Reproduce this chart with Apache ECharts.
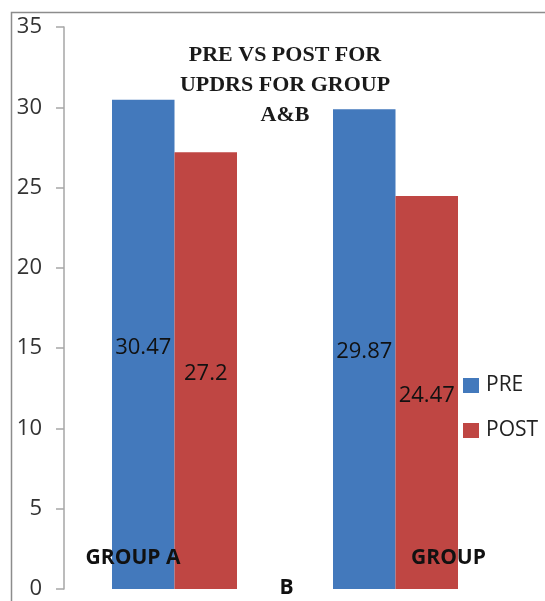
<!DOCTYPE html>
<html>
<head>
<meta charset="utf-8">
<script src="https://cdn.jsdelivr.net/npm/echarts@6/dist/echarts.min.js"></script>
<style>html,body{margin:0;padding:0;background:#fff;}#c{width:545px;height:601px;}</style>
</head>
<body>
<div id="c"></div>
<script>
var categories = ['GROUP A', 'GROUP B'];
var preValues = [30.47, 29.87];
var postValues = [27.2, 24.47];
var seriesNames = ['PRE', 'POST'];
var titleLines = ['PRE VS POST FOR', 'UPDRS FOR GROUP', 'A&B'];

var chart = echarts.init(document.getElementById('c'));
chart.setOption({
  animation: false,
  backgroundColor: '#fff',
  title: {
    text: titleLines.join('\n'),
    left: 285, top: 40, padding: 0, textAlign: 'center',
    textStyle: { fontFamily: 'Liberation Serif', fontWeight: 'bold', fontSize: 22, lineHeight: 30, color: '#1a1a1a' }
  },
  legend: {
    orient: 'vertical', left: 458, top: 370,
    itemWidth: 16, itemHeight: 15, itemGap: 24,
    icon: 'rect',
    data: seriesNames,
    textStyle: { fontFamily: 'Open Sans', fontSize: 21, color: '#222', padding: [0, 0, 0, 2] }
  },
  graphic: [{
    type: 'rect', shape: { x: 11.5, y: 12.5, width: 600, height: 700 },
    style: { fill: 'none', stroke: '#8c8c8c', lineWidth: 1.5 }, silent: true
  }],
  grid: { left: 64, right: 39, top: 27, bottom: 12 },
  xAxis: {
    type: 'category', data: categories, z: 10,
    axisLine: { show: false }, axisTick: { show: false },
    axisLabel: {
      interval: 0, margin: -46, color: '#111',
      formatter: function (v) {
        if (v === 'GROUP A') return '{a|GROUP A}';
        var parts = v.split(' ');
        return '{g|' + parts[0] + '}\n{b|' + parts[1] + '}';
      },
      rich: {
        a: { fontFamily: 'Open Sans', fontWeight: 'bold', fontSize: 21, lineHeight: 30, padding: [0, 83, 0, 0], align: 'center', color: '#111' },
        g: { fontFamily: 'Open Sans', fontWeight: 'bold', fontSize: 21, lineHeight: 30, padding: [0, 0, 0, 106], align: 'center', color: '#111' },
        b: { fontFamily: 'Open Sans', fontWeight: 'bold', fontSize: 21, lineHeight: 30, padding: [0, 218, 0, 0], align: 'center', color: '#111' }
      }
    }
  },
  yAxis: {
    type: 'value', min: 0, max: 35, interval: 5,
    splitLine: { show: false },
    axisLine: { show: true, lineStyle: { color: '#a6a6a6', width: 1.5 } },
    axisTick: { show: true, length: 8, lineStyle: { color: '#a6a6a6', width: 1.5 } },
    axisLabel: { margin: 22, fontFamily: 'Open Sans', fontSize: 22, color: '#333' }
  },
  series: [{
    name: seriesNames[0], type: 'bar', data: preValues, barWidth: 62.5, barGap: '0%',
    itemStyle: { color: '#4379BC' },
    label: { show: true, position: 'inside', offset: [0, 3], fontFamily: 'Open Sans', fontSize: 22, color: '#111' }
  }, {
    name: seriesNames[1], type: 'bar', data: postValues, barWidth: 62.5,
    itemStyle: { color: '#BF4643' },
    label: { show: true, position: 'inside', offset: [0, 3], fontFamily: 'Open Sans', fontSize: 22, color: '#111' }
  }]
});
</script>
</body>
</html>
